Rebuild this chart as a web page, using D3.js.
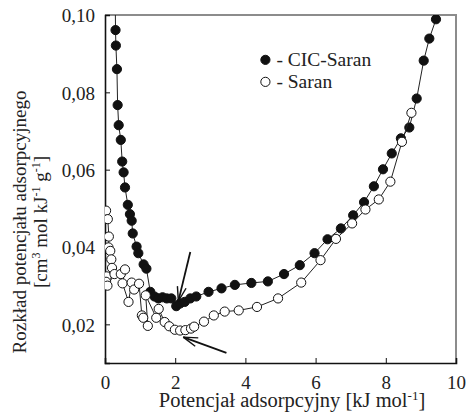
<!DOCTYPE html>
<html>
<head>
<meta charset="utf-8">
<script src="https://cdn.jsdelivr.net/npm/d3@7"></script>
<style>
  body { margin: 0; background: #fff; }
  svg, svg text { font-family: "Liberation Serif", "Times New Roman", "DejaVu Serif", serif; }
</style>
</head>
<body>
<div id="chart"></div>
<script>
// CIC-Saran (filled circles): potential [kJ/mol], distribution value
const cicX = [0.29, 0.30, 0.31, 0.34, 0.36, 0.39, 0.45, 0.49, 0.53, 0.57, 0.65, 0.71, 0.76, 0.79, 0.90, 0.95,
  1.10, 1.18, 1.29, 1.41, 1.52, 1.64, 1.76, 1.89, 2.03, 2.14, 2.27, 2.43, 2.60, 2.95, 3.32, 3.70,
  4.17, 4.64, 5.10, 5.55, 5.97, 6.34, 6.72, 7.07, 7.38, 7.66, 7.92, 8.17, 8.43, 8.67, 8.88, 9.08, 9.24, 9.43];
const cicY = [0.105, 0.0961, 0.0921, 0.0860, 0.0767, 0.0715, 0.0677, 0.0621, 0.0593, 0.0554, 0.0509, 0.0485, 0.0468, 0.0435, 0.0401, 0.0384,
  0.0355, 0.0344, 0.0284, 0.0272, 0.0267, 0.0270, 0.0267, 0.0267, 0.0247, 0.0254, 0.0258, 0.0267, 0.0272, 0.0284, 0.0293, 0.0302,
  0.0307, 0.0311, 0.0330, 0.0353, 0.0384, 0.0420, 0.0448, 0.0482, 0.0516, 0.0557, 0.0601, 0.0642, 0.0681, 0.0709, 0.0784, 0.0882, 0.0939, 0.0989];

// Saran (open circles)
const saranX = [0.03, 0.08, 0.11, 0.10, 0.15, 0.18, 0.20, 0.05, 0.03, 0.07, 0.27, 0.45, 0.57, 0.50, 0.67, 0.76, 0.83, 0.97,
  1.05, 1.09, 1.22, 1.16, 1.46, 1.53, 1.70, 1.83, 1.99, 2.14, 2.29, 2.45, 2.54, 2.82, 3.10, 3.41, 3.81,
  4.33, 4.93, 5.59, 6.14, 6.58, 7.04, 7.42, 7.80, 8.13, 8.46, 8.73];
const saranY = [0.0494, 0.0472, 0.0427, 0.0399, 0.0390, 0.0368, 0.0346, 0.0324, 0.0310, 0.0300, 0.0330, 0.0330, 0.0342, 0.0306, 0.0258, 0.0308, 0.0290, 0.0305,
  0.0223, 0.0217, 0.0196, 0.0275, 0.0217, 0.0240, 0.0206, 0.0195, 0.0186, 0.0184, 0.0185, 0.0189, 0.0194, 0.0207, 0.0223, 0.0233, 0.0236,
  0.0245, 0.0267, 0.0308, 0.0366, 0.0421, 0.0461, 0.0497, 0.0523, 0.0569, 0.0672, 0.0747];

const xTicks = [0, 2, 4, 6, 8, 10];
const yTicks = [0.02, 0.04, 0.06, 0.08, 0.10];

// arrow annotations in data units: [x1, y1, x2(tip), y2(tip)]
const arrows = [
  [2.43, 0.0387, 2.09, 0.0260],
  [3.46, 0.0126, 2.23, 0.0167]
];

const series = [
  { name: "CIC-Saran", xs: cicX, ys: cicY, fill: "#111" },
  { name: "Saran", xs: saranX, ys: saranY, fill: "#fff" }
];

const FONT = "'Liberation Serif', 'Times New Roman', 'DejaVu Serif', serif";
const width = 467, height = 417;
const margin = { top: 15, right: 11, bottom: 54, left: 105 };
const innerWidth = width - margin.left - margin.right;
const innerHeight = height - margin.top - margin.bottom;

const svg = d3.select("#chart").append("svg")
  .attr("width", width)
  .attr("height", height)
  .attr("font-family", FONT);

const g = svg.append("g").attr("transform", `translate(${margin.left},${margin.top})`);

const x = d3.scaleLinear().domain([0, 10]).range([0, innerWidth]);
const y = d3.scaleLinear().domain([0.01, 0.10]).range([innerHeight, 0]);

const locale = d3.formatLocale({ decimal: ",", thousands: ".", grouping: [3], currency: ["", ""] });
const fmtY = locale.format(".2f");

// clip for marks
svg.append("defs").append("clipPath").attr("id", "plot-clip")
  .append("rect").attr("width", innerWidth).attr("height", innerHeight);

// top / right frame (grey)
g.append("path")
  .attr("d", `M0,0H${innerWidth}V${innerHeight}`)
  .attr("fill", "none")
  .attr("stroke", "#8c8c8c")
  .attr("stroke-width", 2);

// Axes with inward ticks
const xMinor = d3.range(0, 10.001, 0.4).filter(v => !xTicks.some(t => Math.abs(t - v) < 1e-6));
const yMinor = d3.range(0.012, 0.1001, 0.004).filter(v => !yTicks.some(t => Math.abs(t - v) < 1e-6));

const xAxisG = g.append("g").attr("transform", `translate(0,${innerHeight})`);
xAxisG.call(d3.axisBottom(x).tickValues(xMinor).tickSize(-3).tickFormat(""));
xAxisG.selectAll(".tick text").remove();
xAxisG.call(d3.axisBottom(x).tickValues(xTicks).tickSize(-5).tickPadding(13).tickFormat(d3.format("d")));

const yAxisG = g.append("g");
yAxisG.call(d3.axisLeft(y).tickValues(yMinor).tickSize(-3).tickFormat(""));
yAxisG.selectAll(".tick text").remove();
yAxisG.call(d3.axisLeft(y).tickValues(yTicks).tickSize(-5).tickPadding(10).tickFormat(fmtY));

[xAxisG, yAxisG].forEach(a => {
  a.attr("font-family", FONT);
  a.selectAll(".domain").attr("stroke", "#111").attr("stroke-width", 1.6);
  a.selectAll(".tick line").attr("stroke", "#111").attr("stroke-width", 1);
  a.selectAll(".tick text").attr("font-size", 19).attr("fill", "#222")
    .attr("font-family", FONT);
});
yAxisG.selectAll(".tick text").attr("dy", "0.36em");
xAxisG.selectAll(".tick text").attr("dy", "0.71em");

// Series
const plot = g.append("g").attr("clip-path", "url(#plot-clip)");
const line = d3.line().x(d => x(d[0])).y(d => y(d[1]));

series.forEach(s => {
  const pts = s.xs.map((v, i) => [v, s.ys[i]]);
  plot.append("path")
    .datum(pts)
    .attr("d", line)
    .attr("fill", "none")
    .attr("stroke", "#222")
    .attr("stroke-width", 1);
  plot.selectAll(null)
    .data(pts)
    .enter()
    .append("circle")
    .attr("cx", d => x(d[0]))
    .attr("cy", d => y(d[1]))
    .attr("r", 4.6)
    .attr("fill", s.fill)
    .attr("stroke", "#111")
    .attr("stroke-width", 1);
});

// Arrows (open arrow heads)
arrows.forEach(a => {
  const x1 = x(a[0]), y1 = y(a[1]), x2 = x(a[2]), y2 = y(a[3]);
  const ang = Math.atan2(y2 - y1, x2 - x1);
  const len = 15, spread = 0.3;
  g.append("line")
    .attr("x1", x1).attr("y1", y1).attr("x2", x2).attr("y2", y2)
    .attr("stroke", "#111").attr("stroke-width", 1.8);
  [-spread, spread].forEach(s => {
    g.append("line")
      .attr("x1", x2).attr("y1", y2)
      .attr("x2", x2 - len * Math.cos(ang + s))
      .attr("y2", y2 - len * Math.sin(ang + s))
      .attr("stroke", "#111").attr("stroke-width", 1.4);
  });
});

// Legend
const legend = g.append("g").attr("transform", `translate(${x(4.57)},${y(0.0884)})`);
series.forEach((s, i) => {
  const row = legend.append("g").attr("transform", `translate(0,${i * 22})`);
  row.append("circle").attr("r", 4.6).attr("fill", s.fill).attr("stroke", "#111").attr("stroke-width", 1);
  row.append("text")
    .attr("x", 11).attr("y", 6.5)
    .attr("font-size", 19.5)
    .attr("fill", "#222")
    .text(`- ${s.name}`);
});

// X label
const xLabel = svg.append("text")
  .attr("x", 292)
  .attr("y", 407)
  .attr("text-anchor", "middle")
  .attr("font-size", 20.5)
  .attr("fill", "#222");
xLabel.append("tspan").text("Potencjał adsorpcyjny [kJ mol");
xLabel.append("tspan").attr("dy", -7).attr("font-size", 13).text("-1");
xLabel.append("tspan").attr("dy", 7).text("]");

// Y label (two lines)
const yLabel = svg.append("g").attr("transform", `translate(0,${margin.top + innerHeight / 2 + 33}) rotate(-90)`);
yLabel.append("text")
  .attr("x", 0).attr("y", 26)
  .attr("text-anchor", "middle")
  .attr("font-size", 19)
  .attr("fill", "#222")
  .text("Rozkład potencjału adsorpcyjnego");
const y2 = yLabel.append("text")
  .attr("x", 0).attr("y", 47)
  .attr("text-anchor", "middle")
  .attr("font-size", 19)
  .attr("fill", "#222");
y2.append("tspan").text("[cm");
y2.append("tspan").attr("dy", -7).attr("font-size", 12).text("3");
y2.append("tspan").attr("dy", 7).text(" mol kJ");
y2.append("tspan").attr("dy", -7).attr("font-size", 12).text("-1");
y2.append("tspan").attr("dy", 7).text(" g");
y2.append("tspan").attr("dy", -7).attr("font-size", 12).text("-1");
y2.append("tspan").attr("dy", 7).text("]");
</script>
</body>
</html>
